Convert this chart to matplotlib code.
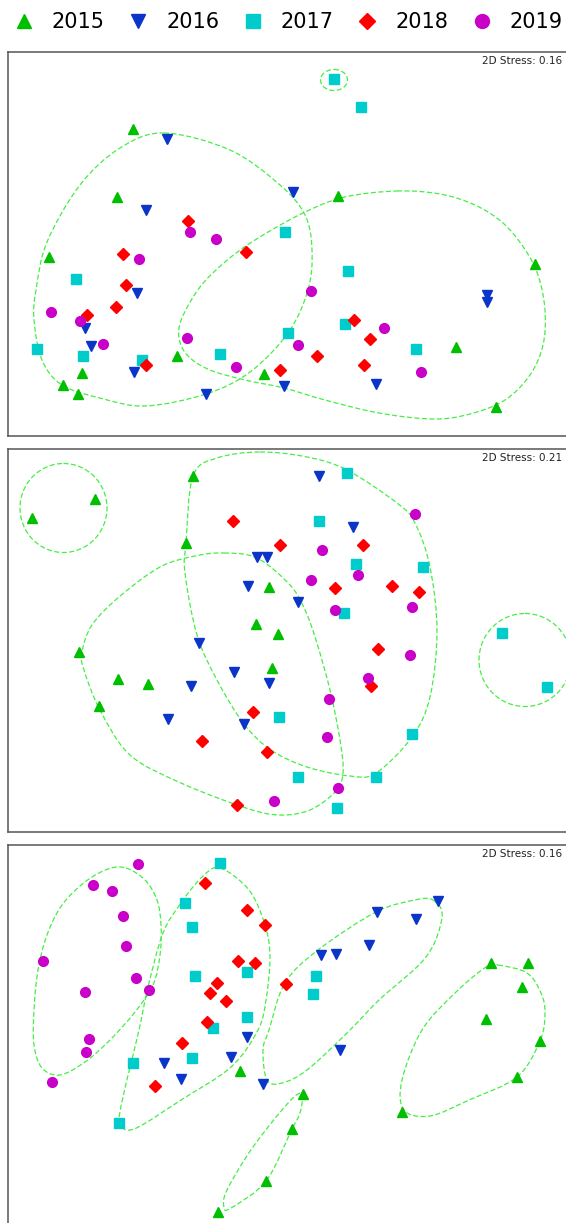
import numpy as np
import matplotlib
matplotlib.use('Agg')
from matplotlib import pyplot as plt
from matplotlib.lines import Line2D
from matplotlib.path import Path
from matplotlib.patches import PathPatch, Ellipse

years = ['2015', '2016', '2017', '2018', '2019']
markers = ['^', 'v', 's', 'D', 'o']
colors = ['#00bf00', '#0a35c8', '#00cccc', '#ff0000', '#c800c8']
HULL = '#44ee44'

# ordination scores (one list of (x, y) per year)
p1_2015 = [(132.5, 129.3), (338, 195.7), (117.3, 197.3), (48.7, 257.3), (535, 264.3), (176.5, 356),
           (263.9, 374), (456.3, 347), (82, 372.7), (62.5, 384.7), (78, 394.3), (495.7, 406.7)]
p1_2016 = [(166.8, 139.3), (293, 192), (145.5, 209.7), (136.5, 293.3), (486.6, 295), (487.4, 302.3),
           (84.5, 328.3), (91, 346), (284.1, 386.3), (376.2, 384.3), (134, 372.3), (205.8, 394.3)]
p1_2017 = [(334.3, 79.3), (361, 107), (285, 231.7), (348, 270.7), (75.8, 279), (344.8, 324.3),
           (287.7, 333), (36.5, 348.7), (83.4, 355.7), (141.5, 360), (220.2, 354), (416.2, 348.7)]
p1_2018 = [(188, 220.7), (246, 251.7), (123, 253.7), (125.6, 285), (116.2, 307), (87, 314.7),
           (353.8, 319.7), (370, 338.7), (317, 355.7), (145.8, 365.3), (280.1, 369.7), (363.9, 365)]
p1_2019 = [(190, 232.3), (215.5, 239.3), (138.6, 259.3), (311.2, 290.7), (51.3, 312), (79.8, 320.7),
           (384, 328.3), (186.6, 338.3), (297.5, 345.3), (102.5, 344.3), (236.1, 366.7), (421.3, 372)]

p2_2015 = [(192.8, 476), (95, 499.3), (32.1, 517.7), (186.3, 543.3), (268.6, 587.3), (256.3, 623.7),
           (277.6, 634), (79.4, 651.7), (271.8, 667.7), (117.7, 678.7), (147.7, 684), (98.9, 706.3)]
p2_2016 = [(319.1, 476), (352.7, 527), (256.7, 557.3), (266.8, 556.7), (247.7, 586.3), (297.8, 602.3),
           (198.9, 643.3), (233.6, 672.3), (191, 686), (268.6, 683.3), (167.5, 719), (244.4, 724)]
p2_2017 = [(347.3, 473.3), (319.1, 521.3), (356, 563.7), (422.7, 567), (344, 613.3), (502.2, 633.3),
           (547, 687.3), (279, 716.7), (412, 734.3), (298.2, 777), (375.5, 776.7), (336.8, 808.3)]
p2_2018 = [(232.5, 520.7), (279.8, 544.7), (362.5, 545.3), (334.7, 587.7), (391.7, 586), (419.1, 591.7),
           (378.3, 649), (370.8, 686.3), (253.4, 711.7), (202.2, 741.3), (267.1, 752.3), (236.8, 804.7)]
p2_2019 = [(415.2, 514.3), (321.7, 550.3), (357.8, 575), (310.8, 580), (335, 609.7), (411.6, 607),
           (410.1, 655.3), (367.5, 677.7), (329.2, 698.7), (327, 737), (337.9, 787.7), (273.6, 800.7)]

p3_2015 = [(490.6, 963), (528.2, 963), (522, 986.7), (486.3, 1019), (540.4, 1041.3), (239.7, 1071),
           (517.3, 1077), (302.5, 1093.7), (401.8, 1112), (292, 1128.7), (266.4, 1180.7), (218.4, 1212)]
p3_2016 = [(437.9, 901), (376.5, 911.7), (416.2, 919.3), (369.3, 945), (320.6, 955), (336.1, 953.7),
           (246.6, 1037.3), (231, 1057.3), (163.5, 1062.7), (340, 1050), (180.5, 1078.7), (262.5, 1084)]
p3_2017 = [(220.2, 862.7), (184.5, 902.7), (191.7, 927.3), (247.3, 972), (194.9, 975.7), (315.9, 975.7),
           (313.4, 993.7), (246.6, 1017.3), (213.4, 1028), (192.4, 1057.7), (133.2, 1063), (119.1, 1123)]
p3_2018 = [(205, 883), (246.9, 910), (265.3, 925), (238.3, 960.7), (254.9, 963), (217.3, 982.7),
           (286.3, 984), (210.1, 993.3), (226.4, 1001.3), (206.5, 1022.3), (182.3, 1043), (155.2, 1085.7)]
p3_2019 = [(137.5, 864.3), (92.8, 884.7), (112.3, 891), (123.1, 916.3), (125.6, 946), (43, 961),
           (136.1, 977.7), (148.7, 990), (84.5, 992.3), (89.2, 1039), (85.6, 1052.3), (51.6, 1082.3)]

stress = ['2D Stress: 0.16', '2D Stress: 0.21', '2D Stress: 0.16']

# hull outlines (knots of a closed smooth curve)
h1_left = [(164, 133), (230, 150), (280, 185), (305, 215), (312, 250), (308, 290), (288, 333),
           (250, 372), (206, 394), (145, 406), (100, 398), (62, 385), (42, 360), (34, 320),
           (36, 290), (47, 242), (80, 185), (120, 148)]
h1_right = [(397, 191), (440, 194), (475, 205), (503, 223), (524, 248), (538, 275), (545, 310),
            (543, 345), (530, 375), (505, 400), (470, 414), (433, 419), (379, 413), (325, 400),
            (284, 388), (245, 380), (210, 370), (188, 356), (179, 338), (182, 318), (200, 287),
            (225, 262), (255, 240), (303, 213), (345, 197)]
h2_top = [(260, 452), (307, 457), (347, 470), (397, 503), (415, 523), (430, 567), (437, 631),
          (430, 697), (412, 737), (376, 773), (350, 776), (307, 767), (271, 750), (244, 724),
          (217, 680), (197, 635), (185, 573), (186, 543), (193, 476), (217, 458)]
h2_low = [(224, 553), (257, 558), (290, 585), (305, 610), (316, 640), (330, 690), (340, 740),
          (343, 773), (335, 792), (310, 810), (280, 815), (246, 808), (181, 783), (130, 755),
          (100, 710), (84, 670), (82, 652), (92, 625), (119, 597), (160, 567), (195, 556)]
h3_purple = [(126, 868), (145, 880), (157, 900), (161, 925), (160, 955), (153, 985), (135, 1012),
             (110, 1040), (85, 1062), (60, 1075), (42, 1068), (34, 1045), (34, 1010), (38, 970),
             (47, 935), (62, 905), (85, 882), (108, 869)]
h3_red = [(220, 868), (249, 890), (265, 925), (270, 957), (266, 1000), (258, 1030), (231, 1067),
          (181, 1100), (134, 1129), (120, 1122), (123, 1097), (139, 1030), (148, 987), (163, 933),
          (181, 903), (202, 877)]
h3_blue = [(433, 900), (442, 917), (426, 957), (379, 1000), (347, 1033), (307, 1070), (282, 1083),
           (267, 1080), (263, 1050), (269, 1030), (285, 983), (318, 950), (376, 912), (415, 900)]
h3_green = [(498, 965), (527, 973), (541, 993), (545, 1013), (540, 1041), (517, 1077), (469, 1100),
            (430, 1116), (404, 1110), (402, 1080), (422, 1030), (455, 993), (486, 967)]
h3_low = [(302, 1094), (300, 1113), (292, 1129), (266, 1181), (231, 1208), (224, 1207),
          (227, 1190), (253, 1147), (289, 1102)]

panels = [
    dict(pts=[p1_2015, p1_2016, p1_2017, p1_2018, p1_2019], top=52, bottom=436,
         hulls=[h1_left, h1_right], circles=[((334, 80), 27, 21)]),
    dict(pts=[p2_2015, p2_2016, p2_2017, p2_2018, p2_2019], top=449, bottom=832,
         hulls=[h2_top, h2_low], circles=[((63.5, 508), 87, 89), ((525, 660), 92, 93)]),
    dict(pts=[p3_2015, p3_2016, p3_2017, p3_2018, p3_2019], top=845, bottom=1229,
         hulls=[h3_purple, h3_red, h3_blue, h3_green, h3_low], circles=[]),
]


def smooth_hull(ax, knots):
    P = np.array(knots, float)
    n = len(P)
    verts = [P[0]]
    codes = [Path.MOVETO]
    for i in range(n):
        p0, p1, p2, p3 = P[i - 1], P[i], P[(i + 1) % n], P[(i + 2) % n]
        verts += [p1 + (p2 - p0) / 6, p2 - (p3 - p1) / 6, p2]
        codes += [Path.CURVE4] * 3
    ax.add_patch(PathPatch(Path(verts, codes), fill=False, ec=HULL, lw=0.9,
                           ls=(0, (4, 2)), zorder=1))


W, H = 566, 1223
fig = plt.figure(figsize=(W / 100, H / 100), dpi=100)
left, right = 8, 590

for i, p in enumerate(panels):
    ax = fig.add_axes([left / W, 1 - p['bottom'] / H, (right - left) / W, (p['bottom'] - p['top']) / H])
    ax.set_xlim(left, right)
    ax.set_ylim(p['bottom'], p['top'])
    ax.set_xticks([])
    ax.set_yticks([])
    for s in ax.spines.values():
        s.set_color('#555555')
        s.set_linewidth(1.1)
    for hull in p['hulls']:
        smooth_hull(ax, hull)
    for c, w, h in p['circles']:
        ax.add_patch(Ellipse(c, w, h, fill=False, ec=HULL, lw=0.9, ls=(0, (4, 2)), zorder=1))
    for pts, m, col in zip(p['pts'], markers, colors):
        xy = np.array(pts)
        ms = 6.2 if m == 'D' else 7
        ax.plot(xy[:, 0], xy[:, 1], ls='none', marker=m, ms=ms, color=col, mec=col, zorder=3)
    ax.text(562, p['top'] + 4, stress[i], ha='right', va='top', fontsize=7.5, color='#222222')

handles = [Line2D([], [], ls='none', marker=m, color=c, ms=(8.5 if m == 'D' else 10))
           for m, c in zip(markers, colors)]
fig.legend(handles, years, loc='center', bbox_to_anchor=(288 / W, 1 - 22 / H), ncol=5,
           frameon=False, fontsize=15, handlelength=1.0, handletextpad=0.85,
           columnspacing=1.1, borderpad=0)

fig.savefig('out.png', dpi=100)
